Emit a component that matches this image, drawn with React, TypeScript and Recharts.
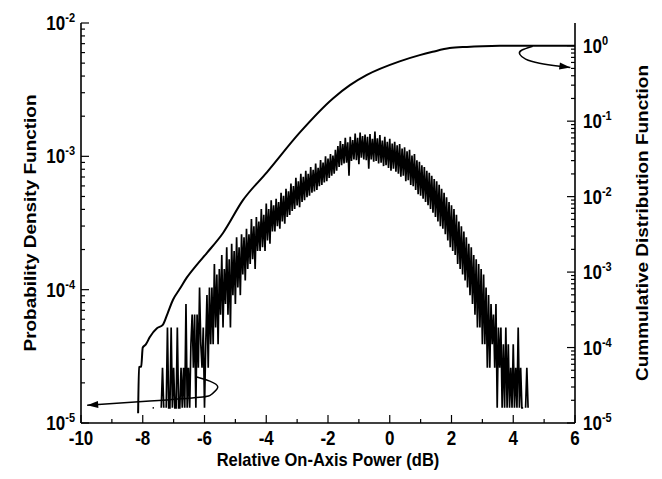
import { LineChart, Line, XAxis, YAxis } from 'recharts';

const FONT = '"Liberation Sans", Arial, Helvetica, sans-serif';
// the source figure is stretched vertically a little, text included
const STRETCH = 1.15;

// axes
const xTicks = [-10, -9, -8, -7, -6, -5, -4, -3, -2, -1, 0, 1, 2, 3, 4, 5, 6];
const pdfDecades = [1e-5, 1e-4, 1e-3, 1e-2];
const cdfDecades = [1e-5, 1e-4, 1e-3, 1e-2, 1e-1, 1];

// PDF histogram: counts per 0.04 dB bin starting at -7.76 dB, one count = 1.3e-5
const pdfStart = -7.76;
const pdfStep = 0.04;
const pdfBinValue = 1.3e-5;
const pdfCounts = [
  1, 0, 1, 1, 0, 0, 0, 0, 0, 1, 2, 1, 0, 1, 4, 1, 1, 4, 1, 2, 1, 1, 4, 1, 1,
  2, 1, 2, 1, 6, 1, 2, 1, 3, 5, 2, 5, 1, 5, 2, 8, 3, 2, 4, 1, 3, 7, 2, 8, 3,
  8, 3, 12, 4, 10, 3, 11, 5, 14, 4, 11, 6, 16, 5, 13, 4, 17, 7, 15, 6, 19, 8, 16, 7, 20,
  10, 19, 9, 22, 11, 20, 12, 26, 13, 23, 11, 27, 15, 25, 15, 31, 16, 28, 15, 34, 18, 31, 17, 36, 21,
  33, 21, 37, 23, 35, 22, 41, 25, 39, 24, 44, 27, 42, 28, 48, 30, 46, 31, 53, 33, 50, 32, 57, 35, 54,
  36, 60, 38, 57, 39, 64, 41, 61, 42, 68, 43, 63, 46, 72, 47, 69, 49, 77, 50, 74, 53, 80, 55, 78, 57,
  86, 60, 92, 64, 100, 66, 95, 68, 106, 69, 98, 55, 108, 71, 102, 73, 114, 72, 106, 67, 116, 75, 109, 73, 112,
  72, 108, 62, 113, 73, 104, 70, 118, 71, 105, 68, 111, 69, 101, 65, 108, 66, 99, 63, 104, 60, 96, 62, 99, 59,
  93, 57, 95, 54, 88, 55, 90, 50, 84, 51, 86, 47, 78, 46, 80, 43, 72, 40, 70, 39, 66, 37, 64, 35, 60,
  33, 58, 31, 55, 29, 52, 27, 50, 25, 47, 23, 44, 22, 41, 20, 38, 18, 35, 16, 33, 15, 31, 14, 28, 12,
  25, 11, 23, 10, 21, 9, 19, 8, 17, 7, 16, 6, 14, 5, 13, 4, 12, 4, 11, 3, 10, 3, 8, 2, 7,
  2, 6, 3, 5, 2, 6, 1, 4, 2, 4, 1, 3, 1, 4, 1, 3, 1, 2, 1, 3, 1, 2, 1, 4, 1,
  2, 1, 1, 0, 1, 2, 1,
];

// CDF (right axis)
const cdfX = [-8.15, -8.12, -8.05, -8.0, -7.9, -7.77, -7.54, -7.35, -7.2, -7.02, -6.8, -6.57, -6.25, -5.92, -5.4, -4.76, -3.98, -2.91, -1.84, -1.29, -0.74, 0.32, 0.97, 1.39, 1.94, 2.5, 3.0, 3.56, 4.4, 6.0];
const cdfValue = [1.35e-5, 5.5e-5, 5.6e-5, 1.0e-4, 1.1e-4, 1.38e-4, 1.8e-4, 2.0e-4, 2.8e-4, 4.3e-4, 6.0e-4, 8.5e-4, 1.25e-3, 1.8e-3, 3.3e-3, 8.9e-3, 2.1e-2, 7.1e-2, 0.2, 0.3, 0.41, 0.62, 0.75, 0.83, 0.93, 0.965, 0.985, 0.997, 1.0, 1.0];

// annotation arrows
const arrowPdfX = [-6.25, -5.83, -5.57, -5.76, -6.15, -7.77, -9.8];
const arrowPdfY = [2.21e-5, 2.06e-5, 1.86e-5, 1.65e-5, 1.56e-5, 1.46e-5, 1.36e-5];
const arrowCdfX = [4.63, 4.27, 4.21, 4.4, 4.85, 5.5, 5.85];
const arrowCdfY = [0.985, 0.871, 0.771, 0.663, 0.586, 0.535, 0.515];

const minorsOf = (decades: number[]) =>
  decades.slice(0, -1).flatMap((d) => [2, 3, 4, 5, 6, 7, 8, 9].map((k) => k * d));

const isDecade = (v: number) => Math.abs(Math.log10(v) - Math.round(Math.log10(v))) < 1e-6;

const axisStyle = { stroke: '#000', strokeWidth: 1.6 };

function PowerLabel({ x, y, value, anchor }: any) {
  const exp = Math.round(Math.log10(value));
  return (
    <text
      transform={`translate(${x},${y}) scale(1,${STRETCH})`}
      textAnchor={anchor}
      fontFamily={FONT}
      fontWeight="bold"
      fontSize={17}
      fill="#000"
    >
      10<tspan dy={-7} fontSize={11}>{exp}</tspan>
    </text>
  );
}

function LeftTick({ x, y, payload }: any) {
  const major = isDecade(payload.value);
  return (
    <g>
      <line x1={x} x2={x + (major ? 8 : 4)} y1={y} y2={y} stroke="#000" strokeWidth={1.2} />
      {major && <PowerLabel x={x - 6} y={y + 7} value={payload.value} anchor="end" />}
    </g>
  );
}

function RightTick({ x, y, payload }: any) {
  const major = isDecade(payload.value);
  return (
    <g>
      <line x1={x} x2={x - (major ? 8 : 4)} y1={y} y2={y} stroke="#000" strokeWidth={1.2} />
      {major && <PowerLabel x={x + 8} y={y + 7} value={payload.value} anchor="start" />}
    </g>
  );
}

function BottomTick({ x, y, payload }: any) {
  const major = payload.value % 2 === 0;
  return (
    <g>
      <line x1={x} x2={x} y1={y} y2={y - (major ? 8 : 4)} stroke="#000" strokeWidth={1.2} />
      {major && (
        <text
          transform={`translate(${x},${y + 22}) scale(1,${STRETCH})`}
          textAnchor="middle"
          fontFamily={FONT}
          fontWeight="bold"
          fontSize={17}
          fill="#000"
        >
          {payload.value}
        </text>
      )}
    </g>
  );
}

function TopTick({ x, y, payload }: any) {
  const major = payload.value % 2 === 0;
  return <line x1={x} x2={x} y1={y} y2={y + (major ? 6 : 3)} stroke="#000" strokeWidth={1.2} />;
}

function AxisTitle({ viewBox, text, side }: any) {
  const vb = viewBox || { x: 0, y: 0, width: 0, height: 0 };
  const common = { fontFamily: FONT, fontWeight: 'bold' as const, fontSize: 16.5, fill: '#000', textAnchor: 'middle' as const };
  if (side === 'bottom') {
    const cx = vb.x + vb.width / 2;
    return (
      <text transform={`translate(${cx},${vb.y + 43}) scale(1,${STRETCH})`} {...common}>
        {text}
      </text>
    );
  }
  const cx = side === 'left' ? vb.x + 28 : vb.x + 73;
  const cy = vb.y + vb.height / 2;
  return (
    <text transform={`translate(${cx},${cy}) rotate(-90) scale(${STRETCH},1)`} {...common}>
      {text}
    </text>
  );
}

const arrowHead = (lastIndex: number, angle: number) => (p: any) => {
  if (p.index !== lastIndex) return <g key={`d-${p.index}`} />;
  return (
    <path
      key={`d-${p.index}`}
      d="M0,0 L-11,-3.5 L-11,3.5 Z"
      transform={`translate(${p.cx},${p.cy}) rotate(${angle})`}
      fill="#000"
    />
  );
};

export default function App() {
  const pdfData = pdfCounts.map((c, i) => ({
    x: +(pdfStart + i * pdfStep).toFixed(2),
    y: c > 0 ? c * pdfBinValue : null,
  }));
  const cdfData = cdfX.map((x, i) => ({ x, y: cdfValue[i] }));
  const arrowPdf = arrowPdfX.map((x, i) => ({ x, y: arrowPdfY[i] }));
  const arrowCdf = arrowCdfX.map((x, i) => ({ x, y: arrowCdfY[i] }));

  return (
    <LineChart width={646} height={463} margin={{ top: 15, right: 0, bottom: 0, left: 0 }}>
      <XAxis
        xAxisId="b"
        type="number"
        dataKey="x"
        domain={[-10, 6]}
        allowDataOverflow
        ticks={xTicks}
        interval={0}
        tickSize={0}
        tickMargin={0}
        tickLine={false}
        axisLine={axisStyle}
        tick={(p: any) => <BottomTick {...p} />}
        height={48}
        label={<AxisTitle side="bottom" text="Relative On-Axis Power (dB)" />}
      />
      <XAxis
        xAxisId="t"
        orientation="top"
        type="number"
        dataKey="x"
        domain={[-10, 6]}
        allowDataOverflow
        ticks={xTicks}
        interval={0}
        tickSize={0}
        tickMargin={0}
        tickLine={false}
        axisLine={axisStyle}
        tick={(p: any) => <TopTick {...p} />}
        height={0}
      />
      <YAxis
        yAxisId="pdf"
        scale="log"
        domain={[1e-5, 1e-2]}
        allowDataOverflow
        ticks={[...pdfDecades, ...minorsOf(pdfDecades)]}
        interval={0}
        tickSize={0}
        tickMargin={0}
        tickLine={false}
        axisLine={axisStyle}
        tick={(p: any) => <LeftTick {...p} />}
        width={73}
        label={<AxisTitle side="left" text="Probability Density Function" />}
      />
      <YAxis
        yAxisId="cdf"
        orientation="right"
        scale="log"
        domain={[1e-5, 2]}
        allowDataOverflow
        ticks={[...cdfDecades, ...minorsOf(cdfDecades)]}
        interval={0}
        tickSize={0}
        tickMargin={0}
        tickLine={false}
        axisLine={axisStyle}
        tick={(p: any) => <RightTick {...p} />}
        width={79}
        label={<AxisTitle side="right" text="Cummulative Distribution Function" />}
      />
      <Line
        xAxisId="b"
        yAxisId="pdf"
        data={pdfData}
        dataKey="y"
        type="linear"
        stroke="#000"
        strokeWidth={1.7}
        dot={false}
        activeDot={false}
        isAnimationActive={false}
      />
      <Line
        xAxisId="b"
        yAxisId="cdf"
        data={cdfData}
        dataKey="y"
        type="monotone"
        stroke="#000"
        strokeWidth={2}
        dot={false}
        activeDot={false}
        isAnimationActive={false}
      />
      <Line
        xAxisId="b"
        yAxisId="pdf"
        data={arrowPdf}
        dataKey="y"
        type="natural"
        stroke="#000"
        strokeWidth={1.5}
        dot={arrowHead(arrowPdf.length - 1, 176)}
        activeDot={false}
        isAnimationActive={false}
      />
      <Line
        xAxisId="b"
        yAxisId="cdf"
        data={arrowCdf}
        dataKey="y"
        type="natural"
        stroke="#000"
        strokeWidth={1.5}
        dot={arrowHead(arrowCdf.length - 1, 8)}
        activeDot={false}
        isAnimationActive={false}
      />
    </LineChart>
  );
}
